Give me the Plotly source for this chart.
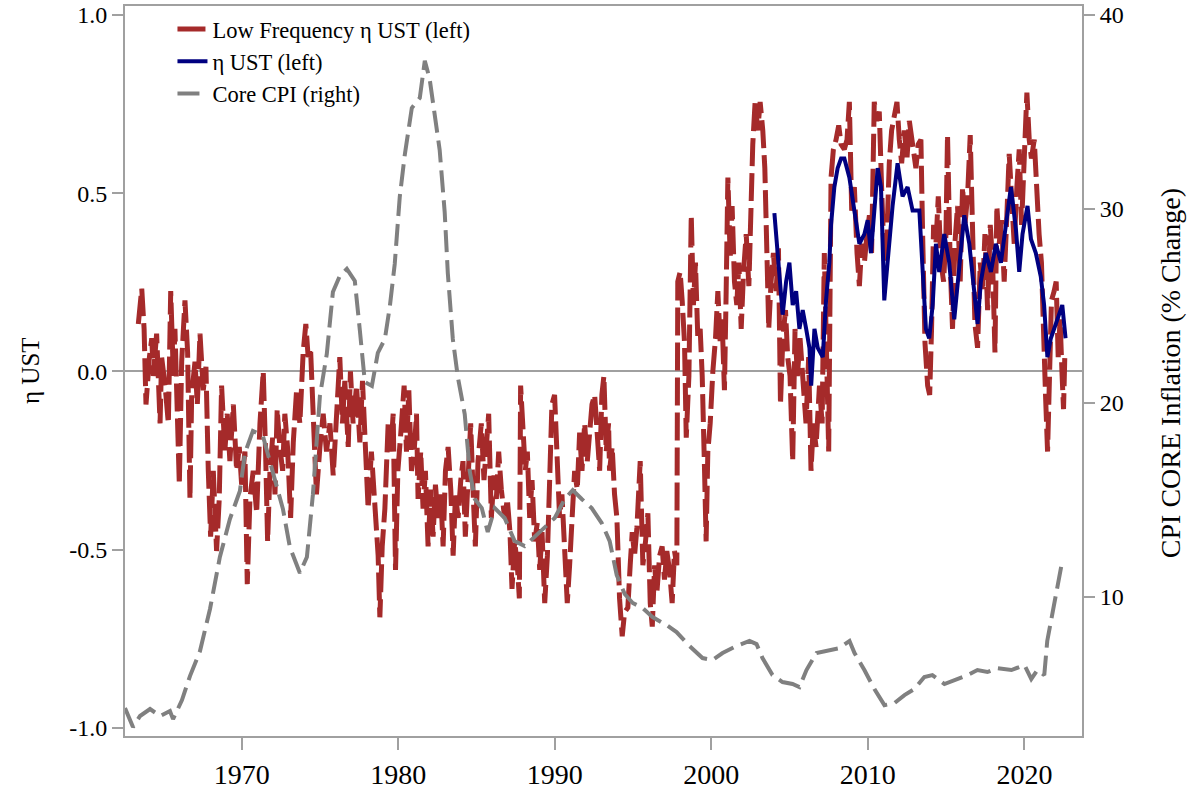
import plotly.graph_objects as go

# ---------------- data ----------------
# Core CPI (right axis)
cpi_year = [1962.55, 1963.06, 1963.51, 1964.15, 1964.79, 1965.42, 1965.62, 1966.19, 1966.70, 1967.34,
            1967.98, 1968.61, 1969.25, 1969.89, 1970.21, 1970.72, 1971.36, 1972.00, 1972.64, 1973.08,
            1973.72, 1974.17, 1974.55, 1975.00, 1975.44, 1975.83, 1976.27, 1976.72, 1977.23, 1977.55,
            1977.87, 1978.32, 1978.70, 1979.15, 1979.47, 1979.78, 1980.10, 1980.42, 1980.87, 1981.38,
            1981.70, 1982.01, 1982.33, 1982.65, 1982.97, 1983.17, 1983.49, 1983.81, 1984.25, 1984.57,
            1984.89, 1985.34, 1985.72, 1986.17, 1986.80, 1987.44, 1988.08, 1988.72, 1989.36, 1990.00,
            1990.64, 1991.15, 1991.72, 1992.36, 1993.00, 1993.51, 1993.96, 1994.47, 1994.98, 1995.61,
            1996.25, 1997.14, 1997.78, 1998.61, 1999.44, 2000.08, 2000.72, 2001.61, 2002.44, 2002.89,
            2003.27, 2003.91, 2004.55, 2005.19, 2005.63, 2006.08, 2006.72, 2007.36, 2008.19, 2008.83,
            2009.15, 2009.78, 2010.42, 2011.06, 2011.70, 2012.34, 2012.97, 2013.61, 2014.12, 2014.89,
            2015.72, 2016.36, 2017.00, 2017.64, 2018.27, 2019.17, 2020.00, 2020.44, 2020.83, 2021.27,
            2021.46, 2021.78, 2022.10, 2022.42]
cpi_val = [4.26, 3.28, 3.85, 4.21, 3.85, 4.11, 3.69, 4.67, 5.91, 7.20,
           9.37, 12.05, 14.01, 15.45, 17.41, 18.55, 18.29, 16.48, 14.52, 12.56,
           11.22, 12.05, 15.25, 20.35, 22.52, 25.71, 26.54, 26.90, 26.28, 23.75,
           21.07, 20.87, 22.57, 23.29, 24.99, 27.16, 30.61, 32.78, 35.20, 35.72,
           37.63, 36.70, 34.74, 33.04, 29.84, 26.69, 23.29, 21.33, 19.42, 16.48,
           15.04, 14.57, 13.34, 14.57, 14.06, 12.87, 12.61, 13.08, 13.54, 14.06,
           15.04, 15.50, 15.04, 14.57, 13.80, 12.87, 11.12, 10.14, 9.68, 9.42,
           8.95, 8.54, 8.18, 7.46, 6.84, 6.74, 7.10, 7.46, 7.72, 7.56,
           6.84, 5.96, 5.60, 5.50, 5.34, 6.22, 7.10, 7.20, 7.35, 7.72,
           7.10, 6.22, 5.24, 4.41, 4.52, 4.93, 5.24, 5.86, 5.96, 5.50,
           5.76, 5.96, 6.22, 6.12, 6.32, 6.22, 6.48, 5.76, 6.22, 5.96,
           7.72, 9.16, 10.60, 11.84]

# eta UST (left axis)
eta_year = [2004.03, 2004.24, 2004.46, 2004.56, 2004.78, 2004.99, 2005.20, 2005.42, 2005.63, 2005.84,
            2006.06, 2006.27, 2006.38, 2006.59, 2006.80, 2007.12, 2007.33, 2007.54, 2007.65, 2007.86,
            2008.07, 2008.29, 2008.50, 2008.82, 2009.14, 2009.46, 2009.78, 2009.99, 2010.20, 2010.52,
            2010.63, 2010.84, 2011.05, 2011.26, 2011.58, 2011.90, 2012.22, 2012.54, 2012.86, 2013.29,
            2013.50, 2013.71, 2013.92, 2014.14, 2014.35, 2014.56, 2014.88, 2015.20, 2015.52, 2015.84,
            2016.16, 2016.48, 2016.80, 2017.01, 2017.22, 2017.54, 2017.86, 2018.18, 2018.50, 2018.92,
            2019.14, 2019.46, 2019.67, 2019.88, 2020.20, 2020.42, 2020.73, 2021.05, 2021.26, 2021.47,
            2021.69, 2021.90, 2022.12, 2022.42, 2022.63]
eta_val = [0.444, 0.332, 0.225, 0.159, 0.252, 0.305, 0.186, 0.225, 0.119, 0.172,
           0.119, 0.066, -0.040, 0.119, 0.066, 0.040, 0.199, 0.305, 0.411, 0.517,
           0.570, 0.597, 0.597, 0.544, 0.451, 0.358, 0.385, 0.424, 0.332, 0.491,
           0.570, 0.517, 0.199, 0.305, 0.464, 0.584, 0.491, 0.517, 0.451, 0.451,
           0.305, 0.119, 0.093, 0.186, 0.358, 0.279, 0.385, 0.305, 0.146, 0.305,
           0.438, 0.358, 0.225, 0.133, 0.252, 0.332, 0.279, 0.358, 0.305, 0.451,
           0.517, 0.398, 0.279, 0.385, 0.464, 0.371, 0.332, 0.265, 0.186, 0.040,
           0.093, 0.119, 0.146, 0.186, 0.093]

# Low Frequency eta UST (left axis)
lf_year = [1963.40, 1963.62, 1963.77, 1963.89, 1964.11, 1964.26, 1964.36, 1964.57, 1964.79, 1964.89,
           1965.11, 1965.32, 1965.47, 1965.64, 1965.74, 1965.89, 1966.02, 1966.17, 1966.38, 1966.55,
           1966.70, 1966.81, 1967.02, 1967.17, 1967.34, 1967.55, 1967.72, 1967.87, 1968.02, 1968.19,
           1968.40, 1968.57, 1968.72, 1968.93, 1969.08, 1969.25, 1969.47, 1969.68, 1969.85, 1970.00,
           1970.21, 1970.36, 1970.53, 1970.74, 1970.96, 1971.17, 1971.38, 1971.53, 1971.66, 1971.81,
           1971.98, 1972.13, 1972.27, 1972.44, 1972.62, 1972.76, 1972.93, 1973.13, 1973.30, 1973.51,
           1973.72, 1973.93, 1974.10, 1974.25, 1974.40, 1974.57, 1974.78, 1975.00, 1975.21, 1975.42,
           1975.64, 1975.85, 1976.02, 1976.17, 1976.27, 1976.44, 1976.59, 1976.81, 1976.95, 1977.12,
           1977.34, 1977.55, 1977.72,
           1977.87, 1978.08, 1978.29, 1978.51, 1978.72, 1978.83, 1978.98, 1979.15, 1979.36, 1979.53,
           1979.68, 1979.83, 1979.98, 1980.17, 1980.38, 1980.53, 1980.68, 1980.85, 1981.02, 1981.17,
           1981.27, 1981.44, 1981.59, 1981.74, 1981.91, 1982.08, 1982.23, 1982.38, 1982.55, 1982.72,
           1982.87, 1983.02, 1983.19, 1983.36, 1983.51, 1983.66, 1983.83, 1984.00, 1984.14, 1984.29,
           1984.46, 1984.63, 1984.78, 1984.93, 1985.10, 1985.31, 1985.48, 1985.63, 1985.78, 1985.95,
           1986.12, 1986.27, 1986.42, 1986.59, 1986.80, 1986.97, 1987.14, 1987.27, 1987.44, 1987.61,
           1987.74, 1987.82, 1987.97, 1988.12, 1988.25, 1988.40, 1988.55, 1988.72, 1988.89, 1989.04,
           1989.19, 1989.36, 1989.53, 1989.68, 1989.82, 1989.99, 1990.16, 1990.31, 1990.46, 1990.63,
           1990.80, 1990.95, 1991.10, 1991.27, 1991.44, 1991.59, 1991.74, 1991.91, 1992.08, 1992.23,
           1992.38, 1992.55, 1992.72, 1992.87, 1993.01, 1993.14, 1993.29, 1993.44,
           1993.50, 1993.67, 1993.82, 1993.97, 1994.14, 1994.31, 1994.46, 1994.67, 1994.82, 1994.95,
           1995.10, 1995.25, 1995.46, 1995.63, 1995.80, 1995.95, 1996.10, 1996.23, 1996.38, 1996.52,
           1996.70, 1996.86, 1997.01, 1997.16, 1997.33, 1997.50, 1997.65, 1997.80, 1997.86, 1998.01,
           1998.14, 1998.29, 1998.40, 1998.57, 1998.72, 1998.86, 1998.99, 1999.14, 1999.29, 1999.42,
           1999.57, 1999.67, 1999.78, 1999.93, 2000.10, 2000.27, 2000.42, 2000.57, 2000.69, 2000.84,
           2000.95, 2001.06, 2001.21, 2001.33, 2001.48, 2001.63, 2001.76, 2001.91, 2002.06, 2002.23,
           2002.40, 2002.52, 2002.65, 2002.80, 2002.97, 2003.12, 2003.29, 2003.42, 2003.54, 2003.67,
           2003.82, 2003.97, 2004.14, 2004.29, 2004.42, 2004.57, 2004.74, 2004.88, 2005.03, 2005.20,
           2005.35, 2005.50, 2005.67, 2005.84, 2006.05, 2006.22, 2006.37, 2006.52, 2006.69, 2006.91,
           2007.08, 2007.22, 2007.37, 2007.50, 2007.65, 2007.80, 2007.97, 2008.14, 2008.29,
           2008.50, 2008.67, 2008.82, 2008.97, 2009.14, 2009.31, 2009.46, 2009.61, 2009.78, 2009.95,
           2010.10, 2010.24, 2010.41, 2010.58, 2010.73, 2010.88, 2011.05, 2011.22, 2011.37, 2011.52,
           2011.69, 2011.86, 2012.01, 2012.16, 2012.33, 2012.50, 2012.65, 2012.86, 2013.07, 2013.22,
           2013.39, 2013.50, 2013.65, 2013.82, 2013.95, 2014.07, 2014.20, 2014.35, 2014.50, 2014.67,
           2014.84, 2014.99, 2015.09, 2015.26, 2015.41, 2015.56, 2015.73, 2015.90, 2016.05, 2016.20,
           2016.37, 2016.54, 2016.69, 2016.84, 2017.01, 2017.18, 2017.33, 2017.48, 2017.65, 2017.82,
           2017.97, 2018.12, 2018.24, 2018.39, 2018.54, 2018.71, 2018.88, 2019.03, 2019.18, 2019.35,
           2019.52, 2019.67, 2019.82, 2019.99, 2020.16, 2020.31, 2020.45, 2020.63, 2020.80, 2020.94,
           2021.09, 2021.22, 2021.35, 2021.48, 2021.60, 2021.73, 2021.90, 2022.03, 2022.16, 2022.28,
           2022.41, 2022.50, 2022.58]
lf_val = [0.133, 0.232, 0.119, -0.093, 0.040, 0.093, -0.013, 0.106, -0.146, 0.040,
          -0.040, -0.146, 0.225, -0.013, 0.119, -0.080, -0.318, 0.027, 0.199, 0.053,
          -0.358, -0.066, 0.027, -0.093, 0.106, -0.053, 0.013, -0.279, -0.464, -0.279,
          -0.504, -0.358, -0.040, -0.225, -0.119, -0.252, -0.093, -0.279, -0.212, -0.318,
          -0.225, -0.597, -0.358, -0.279, -0.398, -0.146, 0.000, -0.225, -0.477, -0.279,
          -0.186, -0.345, -0.106, -0.212, -0.279, -0.119, -0.212, -0.411, -0.199, -0.053,
          -0.146, 0.053, 0.133, 0.040, 0.066, -0.119, -0.345, -0.212, -0.119, -0.225,
          -0.146, -0.292, -0.119, -0.040, 0.040, -0.146, -0.027, -0.212, 0.000, -0.146,
          -0.040, -0.199, -0.027,
          -0.212, -0.385, -0.225, -0.358, -0.517, -0.690, -0.491, -0.385, -0.146, -0.225,
          -0.119, -0.557, -0.279, -0.172, -0.040, -0.225, -0.053, -0.279, -0.225, -0.119,
          -0.358, -0.225, -0.385, -0.279, -0.491, -0.332, -0.464, -0.318, -0.411, -0.345,
          -0.491, -0.279, -0.212, -0.332, -0.517, -0.345, -0.411, -0.305, -0.252, -0.464,
          -0.279, -0.146, -0.332, -0.491, -0.252, -0.146, -0.305, -0.225, -0.119, -0.411,
          -0.292, -0.358, -0.225, -0.332, -0.411, -0.358, -0.451, -0.610, -0.477, -0.544,
          -0.637, -0.040, -0.146, -0.279, -0.225, -0.411, -0.305, -0.477, -0.424, -0.557,
          -0.451, -0.650, -0.517, -0.318, -0.093, -0.066, -0.279, -0.411, -0.345, -0.477,
          -0.650, -0.544, -0.411, -0.279, -0.332, -0.172, -0.279, -0.146, -0.252, -0.172,
          -0.093, -0.066, -0.186, -0.279, -0.066, -0.013, -0.225, -0.146,
          -0.279, -0.212, -0.345, -0.411, -0.637, -0.743, -0.676, -0.663, -0.544, -0.451,
          -0.517, -0.438, -0.252, -0.544, -0.477, -0.398, -0.650, -0.716, -0.544, -0.623,
          -0.517, -0.491, -0.584, -0.504, -0.557, -0.650, -0.504, -0.544, 0.252, 0.279,
          0.199, 0.080, -0.186, -0.013, 0.438, 0.186, 0.305, 0.093, 0.119, -0.013,
          -0.279, -0.477, -0.225, -0.146, 0.000, 0.093, 0.225, 0.080, 0.146, -0.053,
          0.225, 0.544, 0.318, 0.464, 0.252, 0.186, 0.305, 0.119, 0.279, 0.385,
          0.239, 0.477, 0.637, 0.756, 0.676, 0.756, 0.676, 0.570, 0.345, 0.119,
          0.252, 0.332, 0.225, 0.345, -0.093, 0.093, 0.172, 0.040, -0.013, -0.252,
          0.119, -0.013, 0.093, -0.040, -0.146, 0.040, -0.279, -0.146, -0.212, -0.040,
          -0.146, 0.332, 0.040, -0.225, 0.544, 0.623, 0.650, 0.690, 0.637,
          0.623, 0.650, 0.756, 0.451, 0.517, 0.332, 0.239, 0.358, 0.305, 0.385,
          0.438, 0.332, 0.756, 0.703, 0.729, 0.517, 0.305, 0.385, 0.584, 0.676,
          0.716, 0.756, 0.650, 0.584, 0.676, 0.597, 0.703, 0.623, 0.570, 0.637,
          0.650, 0.385, 0.080, -0.040, -0.066, 0.119, 0.411, 0.358, 0.491, 0.305,
          0.252, 0.385, 0.663, 0.305, 0.119, 0.358, 0.464, 0.252, 0.517, 0.411,
          0.491, 0.663, 0.318, 0.133, 0.066, 0.305, 0.225, 0.385, 0.172, 0.411,
          0.305, 0.053, 0.464, 0.358, 0.424, 0.252, 0.438, 0.610, 0.491, 0.358,
          0.517, 0.623, 0.411, 0.570, 0.782, 0.650, 0.597, 0.650, 0.491, 0.385,
          0.305, 0.066, -0.066, -0.225, 0.013, 0.199, 0.225, 0.252, 0.040, 0.146,
          -0.013, -0.106, 0.040]

left_ticks = [-1.0, -0.5, 0.0, 0.5, 1.0]
left_tick_text = ["-1.0", "-0.5", "0.0", "0.5", "1.0"]
right_ticks = [10, 20, 30, 40]
x_ticks = [1970, 1980, 1990, 2000, 2010, 2020]

# ---------------- figure ----------------
FONT = "Liberation Serif, Times New Roman, serif"
AX = "#a0a0a0"

fig = go.Figure()
fig.add_trace(go.Scatter(x=lf_year, y=lf_val, mode="lines", name="Low Frequency η UST (left)",
                         line=dict(color="#a52a2a", width=5, dash="28px,7px")))
fig.add_trace(go.Scatter(x=eta_year, y=eta_val, mode="lines", name="η UST (left)",
                         line=dict(color="#000080", width=4)))
fig.add_trace(go.Scatter(x=cpi_year, y=cpi_val, mode="lines", name="Core CPI (right)", yaxis="y2",
                         line=dict(color="#808080", width=4, dash="22px,8px")))

fig.update_layout(
    width=1193, height=790,
    margin=dict(l=125, r=111, t=6, b=54, autoexpand=False),
    paper_bgcolor="white", plot_bgcolor="white",
    font=dict(family=FONT, color="black", size=24),
    showlegend=True,
    legend=dict(x=0.0496, y=0.9975, xanchor="left", yanchor="top", bgcolor="rgba(0,0,0,0)",
                font=dict(family=FONT, size=22.5), tracegroupgap=0),
    xaxis=dict(range=[1962.55, 2023.68], tickmode="array", tickvals=x_ticks, automargin=False,
               ticks="outside", ticklen=12, tickwidth=2, tickcolor=AX,
               showline=True, linecolor=AX, linewidth=2, mirror=True,
               showgrid=False, zeroline=False, tickfont=dict(size=28)),
    yaxis=dict(range=[-1.023, 1.025], tickmode="array", tickvals=left_ticks, ticktext=left_tick_text,
               automargin=False,
               ticks="outside", ticklen=11, tickwidth=2, tickcolor=AX,
               showline=True, linecolor=AX, linewidth=2, mirror=True,
               showgrid=False, zeroline=True, zerolinecolor=AX, zerolinewidth=2,
               tickfont=dict(size=24)),
    yaxis2=dict(range=[2.82, 40.46], overlaying="y", side="right", tickmode="array", automargin=False,
                tickvals=right_ticks, ticks="outside", ticklen=11, tickwidth=2, tickcolor=AX,
                showline=True, linecolor=AX, linewidth=2, showgrid=False, zeroline=False,
                tickfont=dict(size=24)),
    annotations=[
        dict(text="η UST", xref="paper", yref="paper", x=0, y=0.5, xanchor="center", yanchor="middle",
             xshift=-95, textangle=-90, showarrow=False, font=dict(family=FONT, size=25)),
        dict(text="CPI CORE Inflation (% Change)", xref="paper", yref="paper", x=1, y=0.497,
             xanchor="center", yanchor="middle", xshift=88, textangle=-90, showarrow=False,
             font=dict(family=FONT, size=28)),
    ],
)

fig.write_html("out.html", config={"displayModeBar": False},
               post_script="document.body.style.margin='0px';")
